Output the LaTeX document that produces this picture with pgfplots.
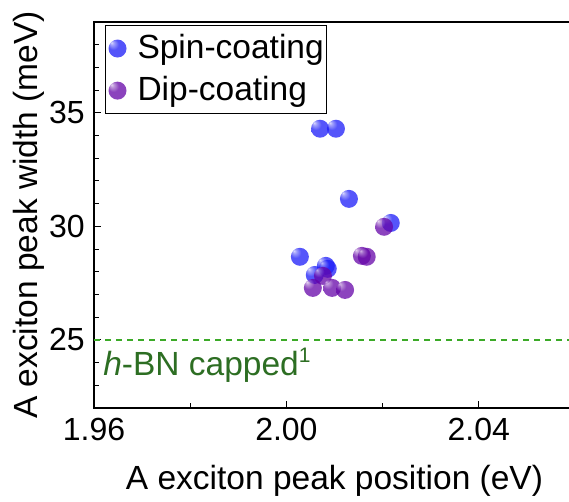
\documentclass[border=0pt]{standalone}
\usepackage{fontspec}
\setmainfont{Liberation Sans}
\usepackage{pgfplots}
\usepackage{pgfplotstable}
\pgfplotsset{compat=1.18}

\definecolor{spinc}{RGB}{28,28,248}
\definecolor{dipc}{RGB}{101,5,168}
\definecolor{bnline}{RGB}{60,170,40}
\definecolor{bntext}{RGB}{45,110,35}

\newcommand{\labelfont}{\fontsize{33.5}{40}\selectfont}

% glossy sphere markers: small highlight towards the upper left
\pgfdeclareradialshading{spinball}{\pgfpoint{-17bp}{17bp}}{%
  color(0bp)=(white!80!spinc); color(5bp)=(white!45!spinc);
  color(15bp)=(spinc); color(50bp)=(spinc)}
\pgfdeclareradialshading{dipball}{\pgfpoint{-17bp}{17bp}}{%
  color(0bp)=(white!80!dipc); color(5bp)=(white!45!dipc);
  color(15bp)=(dipc); color(50bp)=(dipc)}
\pgfdeclareplotmark{spinball}{%
  \pgfpathcircle{\pgfpointorigin}{\pgfplotmarksize}%
  \pgfshadepath{spinball}{0}\pgfusepath{}}
\pgfdeclareplotmark{dipball}{%
  \pgfpathcircle{\pgfpointorigin}{\pgfplotmarksize}%
  \pgfshadepath{dipball}{0}\pgfusepath{}}

% A exciton: peak position (eV) vs. peak width (meV)
\pgfplotstableread{
x      y
2.0070 34.30
2.0103 34.30
2.0130 31.21
2.0217 30.15
2.0028 28.66
2.0082 28.26
2.0086 28.13
2.0059 27.86
}\spindata
\pgfplotstableread{
x      y
2.0203 29.98
2.0157 28.70
2.0167 28.66
2.0076 27.82
2.0055 27.29
2.0095 27.29
2.0122 27.20
}\dipdata

\begin{document}
\fontsize{32}{38}\selectfont
\begin{tikzpicture}
\begin{axis}[
  name=ax,
  scale only axis,
  width=481pt, height=386pt,
  xmin=1.96, xmax=2.06,
  ymin=22, ymax=39,
  axis line style={line width=1.3pt},
  every tick/.style={black, line width=1pt},
  tick align=inside,
  major tick length=7pt,
  minor tick length=5pt,
  xtick pos=bottom, ytick pos=left,
  xtick={1.96,2.00,2.04},
  minor xtick={1.98,2.02,2.06},
  ytick={25,30,35},
  minor ytick={22,23,24,26,27,28,29,31,32,33,34,36,37,38},
  /pgf/number format/assume math mode=true,
  xticklabel style={/pgf/number format/.cd, fixed, fixed zerofill, precision=2},
  yticklabel style={/pgf/number format/.cd, fixed, precision=0},
  tick label style={inner sep=0pt},
  xticklabel shift=10pt,
  yticklabel shift=9pt,
  xlabel={A exciton peak position (eV)},
  ylabel={A exciton peak width (meV)},
  label style={font=\labelfont},
  xlabel style={at={(axis description cs:0.5,-0.2124)}, anchor=base, inner sep=0pt},
  ylabel style={at={(axis description cs:-0.1185,0.5)}, anchor=base, inner sep=0pt},
  legend cell align=left,
  legend image code/.code={%
    \draw[mark repeat=2, mark phase=2]
      plot coordinates {(0pt,0pt) (9pt,0pt) (18pt,0pt)};},
  legend style={at={(axis description cs:0.0229,0.9922)}, anchor=north west,
    draw=black, line width=1pt, inner xsep=3pt, inner ysep=8.5pt,
    font=\labelfont,
    row sep=13pt,
    nodes={inner sep=0pt},
    /tikz/every odd column/.append style={column sep=11pt}},
]
\addplot[only marks, mark=spinball, mark size=9pt, fill opacity=0.75]
  table[x=x, y=y] {\spindata};
\addlegendentry{Spin-coating\hspace{9pt}}
\addplot[only marks, mark=dipball, mark size=9pt, fill opacity=0.75]
  table[x=x, y=y] {\dipdata};
\addlegendentry{Dip-coating}

% reference level for the h-BN capped sample
\addplot[color=bnline, line width=1.3pt, dash pattern=on 6pt off 5pt, forget plot]
  coordinates {(1.96,25) (2.06,25)};
\node[anchor=base west, inner sep=0pt, text=bntext, font=\labelfont]
  at (axis cs:1.9619,23.41)
  {\textit{h}-BN capped\raisebox{0.75ex}{\fontsize{21}{21}\selectfont 1}};
\end{axis}
\pgfresetboundingbox
\path[use as bounding box]
  ([xshift=-94pt,yshift=-93pt]ax.south west) rectangle ([xshift=475pt,yshift=22pt]ax.north west);
\end{tikzpicture}
\end{document}
